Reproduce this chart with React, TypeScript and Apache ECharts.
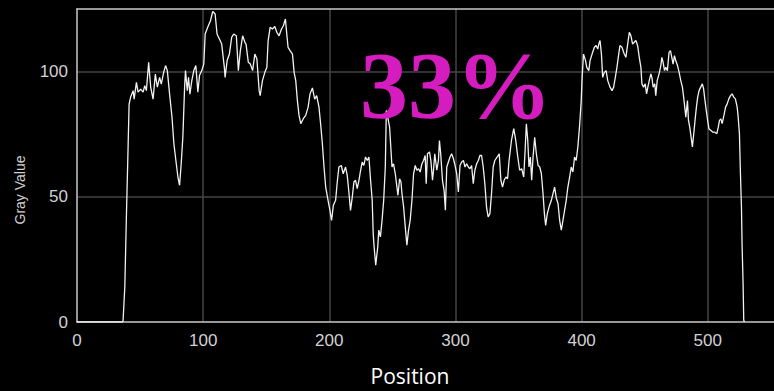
import React, { useEffect, useRef } from "react";
import * as echarts from "echarts";

// x ticks / y ticks
const xTickValues = [0, 100, 200, 300, 400, 500];
const yTickValues = [0, 50, 100];

// Profile: [position, gray value]
const profile: [number, number][] = [
  [0,0],[36,0],[36.5,0.5],[37.9,14],[39.2,43],[40.5,70],[41.3,87],[42.6,90],[44.5,92.4],[45.3,89],[47.1,95.7],[48.4,91.8],[50.5,93],[52.4,91.8],[53.7,94.4],[55,92.4],[56.8,103.7],[58.4,93.8],[60.3,89],[62.1,99],[63.7,93.8],[65.5,97.7],[66.8,95],[68.7,99.7],[70.2,102.4],[71.6,100.4],[73.4,91],[75.3,81.8],[76.8,71.2],[78.7,63.2],[80,57.9],[81.3,54.6],[82.6,63.2],[83.9,73.8],[85.3,93.8],[86,100.4],[87.4,92.4],[88.4,97.7],[89.5,91],[91,96.4],[92.6,100.4],[94.2,102.4],[95.8,91.8],[97.1,98.4],[98.9,100.4],[100.5,103],[101.6,115],[103.6,117.7],[105.8,120.3],[107.6,124],[109.5,123],[111,115],[112.9,113],[114.7,111],[116.8,101.7],[117.4,97.7],[119,104.4],[120.8,107],[122.6,113.7],[124.2,115],[126.3,114.3],[127.9,100.4],[129.5,108.4],[131.3,114.3],[133.1,111.7],[134,111],[135.8,103.7],[137.4,103],[139.2,100.4],[141,107],[142.6,105],[144.4,92.4],[145.2,90.4],[147,96.4],[148.9,99.7],[150.5,101.7],[151.5,112.3],[153.1,117.7],[154.9,117],[156.8,118],[158.4,115.7],[160.2,114.3],[162.1,117],[163.6,118.3],[165.2,121],[166.3,115],[167.3,109.7],[168.9,108.4],[170.8,107],[172.1,99.7],[173.4,96.4],[174.7,88.4],[176,82.5],[177.4,79.2],[179.5,81.3],[181.3,82.5],[183.2,85.8],[184.7,91.1],[186.6,93.5],[188.4,89],[190,90.4],[191.8,85.8],[193.1,79.2],[194.5,71.2],[195.8,61.9],[197.1,54],[199,48.6],[200.5,44.6],[201.8,40.6],[203.2,46.6],[205,48.6],[206.3,55.9],[207.6,61.9],[209.5,62.5],[211,59.2],[212.9,61.9],[214.2,58.6],[215.5,51.9],[216.8,44.6],[218.2,49.9],[219.5,55.9],[220.8,56.6],[222.1,53.3],[223.5,56.6],[224.8,60.6],[226.1,63.9],[227.4,62.5],[228.7,65.9],[230.1,64.5],[231.4,65.9],[232.7,56.6],[234,48.6],[234.8,35.3],[235.5,30],[236.8,22.7],[238.4,30],[239.2,36.7],[240.5,34],[241.8,40.6],[243.1,48.6],[244.4,61.9],[245.2,84.5],[246.3,81.8],[247.8,77.8],[248.9,68.5],[249.7,61.9],[250.9,63.2],[252.3,59.2],[253.6,53.9],[254.4,50.6],[255.7,57.2],[256.8,55.9],[257.6,51.3],[258.9,46],[260.2,38],[261.5,30.7],[262.8,36.7],[264.1,40.6],[265.5,48.6],[266.8,59.2],[268.1,62.5],[269.4,60.6],[270.7,61.2],[272,59.9],[273.4,63.2],[274.7,64.5],[276,66.5],[276.8,55.2],[277.8,67.2],[279.4,67.9],[280.5,64.5],[281.8,56.6],[282.6,60.6],[283.6,67.2],[285.2,60.6],[286.5,64.5],[287.3,72.5],[288.3,67.2],[289.7,56.6],[291,52.6],[292,44.6],[293.1,61.9],[294.4,63.9],[295.7,65.9],[297,67.2],[298.4,65.2],[299.7,62.5],[301,59.2],[302.3,51.9],[303.6,62.5],[304.9,63.9],[306.3,64.5],[307.6,61.9],[308.9,63.2],[310.2,61.9],[311.5,61.2],[312.8,62.5],[314.1,55.2],[315.4,60.6],[316.8,63.2],[318.1,64.5],[319.4,66.5],[320.7,66.5],[322,61.9],[323.3,55.2],[324.6,46],[325.9,42],[327.3,43.3],[328.6,51.3],[329.9,61.9],[331.2,64.5],[333.1,65.9],[334.7,67.2],[336,56.6],[337.3,53.9],[338.6,56.6],[340,57.9],[341.3,57.2],[342.5,64.5],[344.4,72.5],[346.2,77.2],[347.8,72.5],[349.4,65.9],[350.9,60.6],[352.5,61.2],[354.1,57.9],[355.2,68.5],[356.2,79.2],[357.3,72.5],[358.3,61.9],[359.4,65.9],[360.4,56.6],[361.5,65.9],[362.8,73.8],[364.1,67.2],[365.5,62.5],[366.8,61.9],[368.1,59.2],[369.4,51.3],[370.5,43.3],[371.5,38.6],[372.8,43.3],[374.2,46],[376,48.6],[377.3,51.3],[378.6,53.9],[380,49.3],[381.3,47.3],[382.6,40.6],[383.9,36.7],[385.2,40.6],[386.5,44.6],[387.8,48.6],[389.1,53.9],[390.5,57.9],[391.8,61.9],[393.1,59.9],[394.4,65.9],[395.7,64.5],[397,69.9],[398.3,77.8],[399.7,88.4],[400.4,97.7],[401.5,107],[403.1,104.4],[404.1,101.7],[405.7,100.4],[406.7,104.4],[408.3,107],[410.1,109.7],[411.5,110.4],[412.8,109],[413.6,111],[414.6,112.4],[415.7,107],[416.7,97.7],[418,99.7],[419.4,100.4],[420.7,96.4],[422.5,93.8],[424.1,92.4],[425.4,93.8],[426.7,97.7],[428,101.7],[429.4,107],[430.4,110.4],[432,109.7],[433.8,107],[435.1,105.7],[436.5,111],[437.8,115.7],[439.1,114.3],[440.4,111],[441.7,111.7],[443,112.4],[444.4,110.4],[445.7,105.7],[447,101.7],[447.8,95.1],[449.1,93.8],[450.4,95.1],[451.5,91.1],[452.5,93.8],[453.6,96.4],[454.9,99.1],[455.7,97.7],[456.7,93.8],[458,95.1],[458.8,90.4],[459.9,96.4],[461.4,99.1],[462.8,102.4],[463.6,105.7],[464.6,103.7],[465.7,100.4],[466.7,101.7],[468,100.4],[469.3,107.7],[470.4,108.4],[471.5,105.7],[472.5,103],[473.6,106.4],[474.6,104.4],[476,102.4],[477.3,99.7],[478.6,96.4],[479.9,93.8],[481.2,88.4],[482.6,81.8],[483.9,88.4],[484.7,80.5],[485.7,77.8],[486.8,73.8],[487.8,69.9],[488.9,75.2],[489.9,80.5],[491,85.8],[492,89.8],[493.1,92.4],[494.4,93.8],[495.7,95.1],[496.7,93.1],[497.8,88.4],[498.8,84.5],[499.9,80.5],[500.9,77.2],[502.5,76.5],[504.1,75.8],[505.6,75.8],[507.2,75.2],[508.3,77.8],[509.3,80.5],[510.4,81.1],[511.4,79.2],[512.8,82.5],[514.1,85.8],[515.4,87.1],[516.7,89.1],[518,90.4],[519.3,91.1],[520.6,89.8],[521.9,89.1],[523.3,85.8],[524,82.5],[525.1,75.2],[525.9,59.2],[526.7,46],[527.2,30.7],[528,15.4],[528.5,0.8],[529,0]
];

const xAxisTitle = "Position";
const yAxisTitle = "Gray Value";
const overlayLabel = "33%";

export default function App() {
  const ref = useRef<HTMLDivElement>(null);

  useEffect(() => {
    if (!ref.current) return;
    const chart = echarts.init(ref.current, null, { renderer: "svg" });
    const frameColor = "#c9c9c9";
    const gridColor = "#454545";
    const labelStyle = {
      color: "#d2d2d2",
      fontSize: 17,
      fontFamily: "Liberation Sans, Arial, sans-serif",
    };
    chart.setOption({
      animation: false,
      backgroundColor: "#000",
      grid: { left: 77, top: 9, right: -3, bottom: 69, containLabel: false },
      xAxis: [
        {
          type: "value",
          min: 0,
          max: 552.5,
          interval: 100,
          axisLine: { show: true, lineStyle: { color: frameColor, width: 1.5 } },
          axisTick: { show: false },
          axisLabel: {
            ...labelStyle,
            margin: 10,
            showMaxLabel: false,
            formatter: (v: number) => (xTickValues.includes(v) ? String(v) : ""),
          },
          splitLine: {
            show: true,
            showMinLine: false,
            showMaxLine: false,
            lineStyle: { color: gridColor, width: 1.5 },
          },
        },
        {
          type: "value",
          position: "top",
          min: 0,
          max: 552.5,
          interval: 100,
          axisLine: { show: true, onZero: false, lineStyle: { color: frameColor, width: 1.5 } },
          axisTick: { show: false },
          axisLabel: { show: false },
          splitLine: { show: false },
        },
      ],
      yAxis: {
        type: "value",
        min: 0,
        max: 125,
        interval: 50,
        axisLine: { show: true, lineStyle: { color: frameColor, width: 1.5 } },
        axisTick: { show: false },
        axisLabel: {
          ...labelStyle,
          margin: 9,
          showMaxLabel: false,
          formatter: (v: number) => (yTickValues.includes(v) ? String(v) : ""),
        },
        splitLine: {
          show: true,
          showMinLine: false,
          showMaxLine: false,
          lineStyle: { color: gridColor, width: 1.5 },
        },
      },
      series: [
        {
          type: "line",
          data: profile,
          showSymbol: false,
          silent: true,
          lineStyle: { color: "#f2f2f2", width: 1.3 },
          z: 3,
        },
      ],
      graphic: [
        {
          type: "text",
          x: 20,
          y: 190,
          rotation: Math.PI / 2,
          style: {
            text: yAxisTitle,
            fill: "#d2d2d2",
            font: "14px 'Liberation Sans', Arial, sans-serif",
            textAlign: "center",
            textVerticalAlign: "middle",
            align: "center",
            verticalAlign: "middle",
          },
        },
        {
          type: "text",
          x: 410,
          y: 376,
          style: {
            text: xAxisTitle,
            fill: "#ffffff",
            font: "21px 'Open Sans', sans-serif",
            textAlign: "center",
            textVerticalAlign: "middle",
            align: "center",
            verticalAlign: "middle",
          },
        },
        {
          type: "text",
          x: 456,
          y: 85,
          z: 10,
          style: {
            text: overlayLabel,
            fill: "#d41cbf",
            font: "bold 96px 'Liberation Serif', 'Times New Roman', serif",
            textAlign: "center",
            textVerticalAlign: "middle",
            align: "center",
            verticalAlign: "middle",
          },
        },
      ],
    });
    return () => chart.dispose();
  }, []);

  return (
    <div
      ref={ref}
      style={{ position: "fixed", left: 0, top: 0, width: 774, height: 391, background: "#000" }}
    />
  );
}
